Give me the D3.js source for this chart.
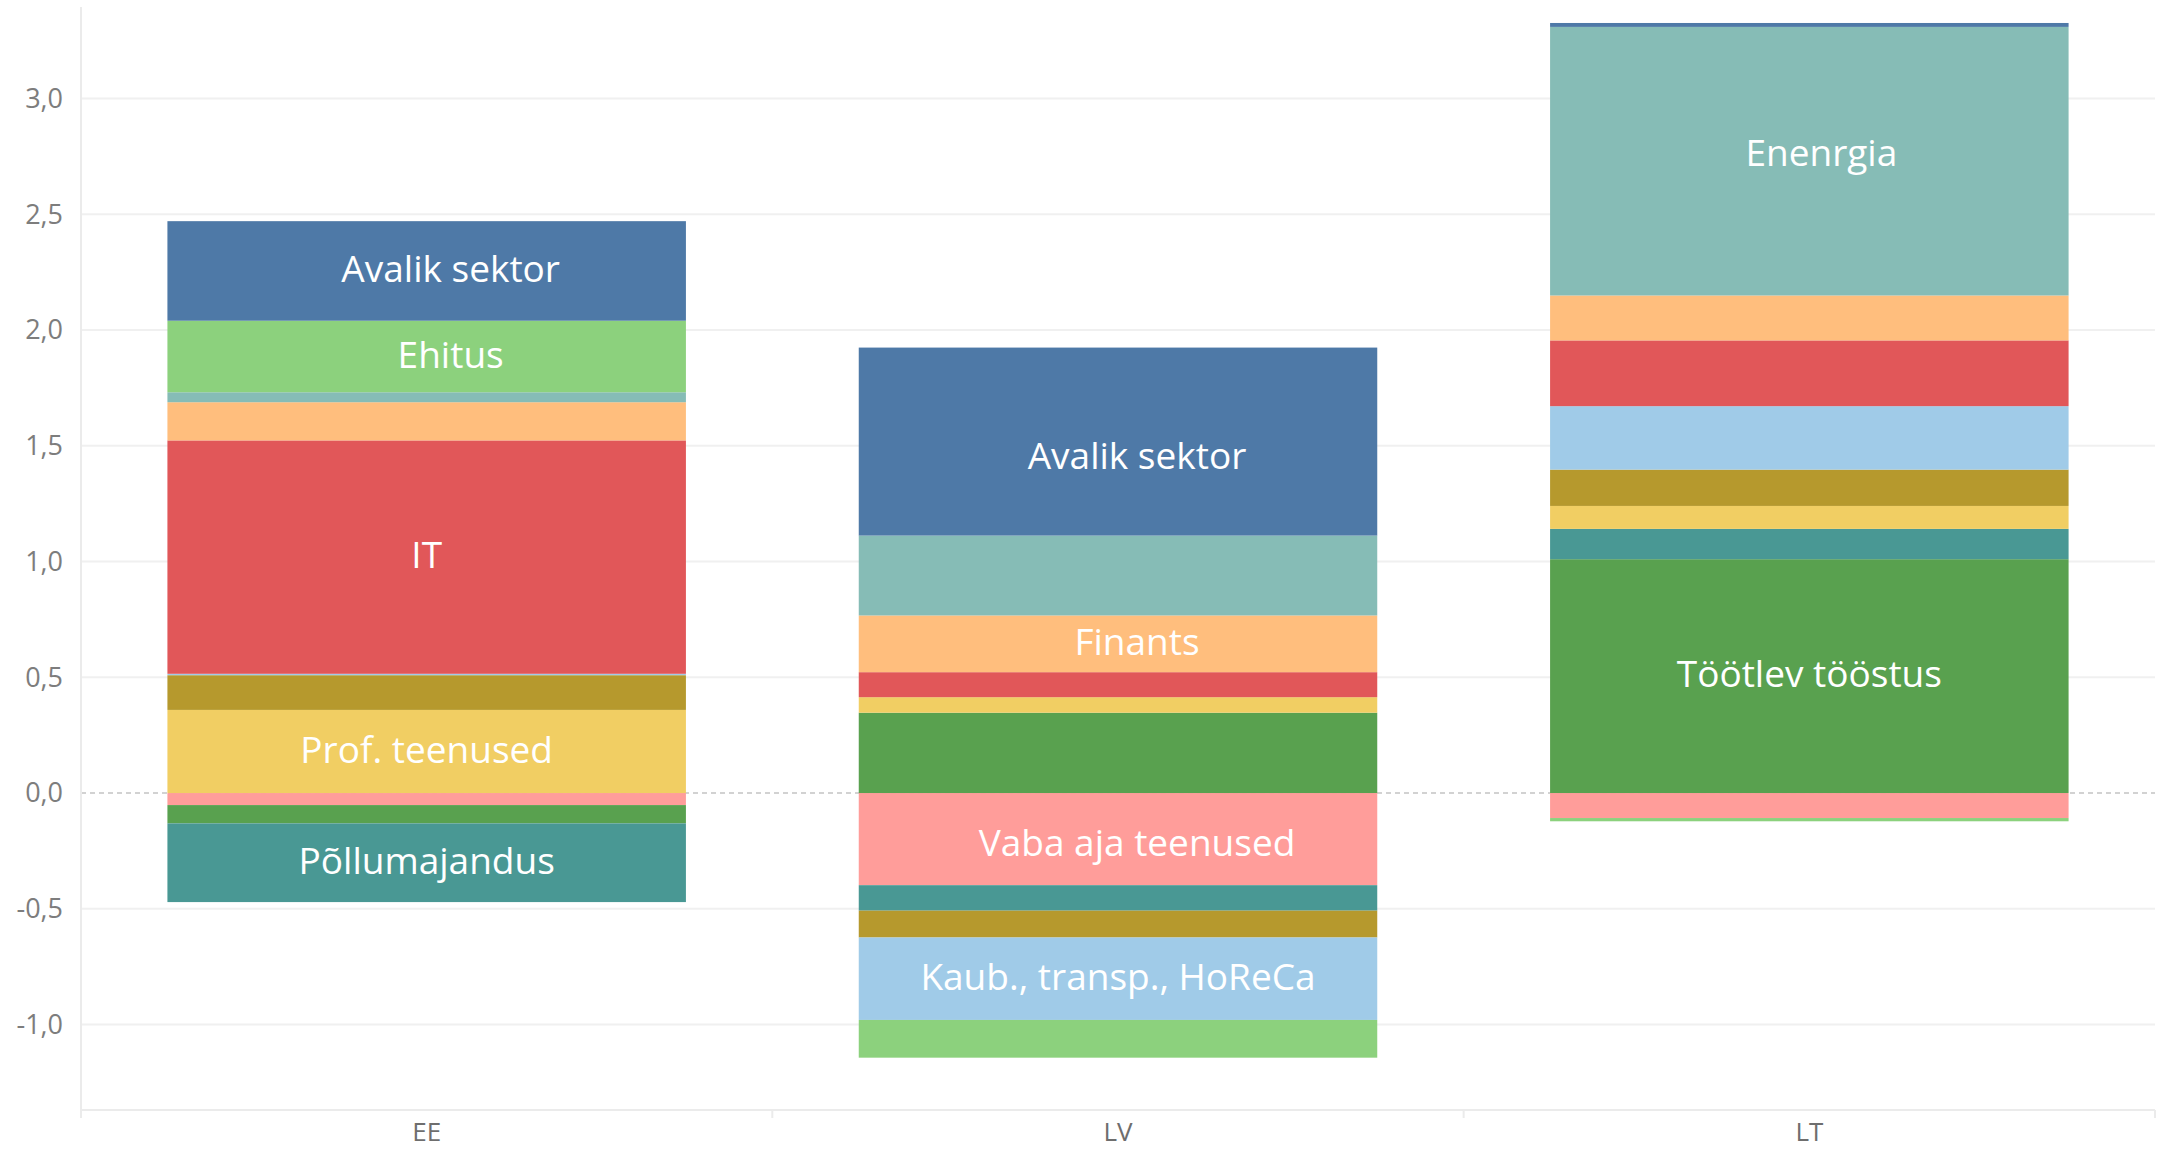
<!DOCTYPE html>
<html>
<head>
<meta charset="utf-8">
<script src="https://cdn.jsdelivr.net/npm/d3@7"></script>
<style>
    body { margin: 0; background: #fff; }
    svg { display: block; }
</style>
</head>
<body>
<script>
// categories and sectors (stack order as in the source, Estonian alphabet)
const countries = ['EE', 'LV', 'LT'];
const sectors = [
    'Avalik sektor', 'Ehitus', 'Enenrgia', 'Finants', 'IT',
    'Kaub., transp., HoReCa', 'Kinnisvara', 'Prof. teenused',
    'Põllumajandus', 'Töötlev tööstus', 'Vaba aja teenused'
];
const sectorColors = [
    '#4e79a7', '#8cd17d', '#86bcb6', '#ffbe7d', '#e15759',
    '#a0cbe8', '#b6992d', '#f1ce63', '#499894', '#59a14f', '#ff9d9a'
];

// contribution per sector, same order as sectors
const valuesEE = [0.43, 0.309, 0.043, 0.165, 1.008, 0.006, 0.15, 0.359, -0.34, -0.079, -0.052];
const valuesLV = [0.812, -0.163, 0.345, 0.245, 0.108, -0.356, -0.116, 0.067, -0.110, 0.347, -0.398];
const valuesLT = [0.017, -0.014, 1.16, 0.194, 0.284, 0.274, 0.157, 0.099, 0.131, 1.01, -0.108];

const yTicks = [-1.0, -0.5, 0.0, 0.5, 1.0, 1.5, 2.0, 2.5, 3.0];

// segments that carry a text label
const labelled = [
    ['EE', 'Avalik sektor'], ['EE', 'Ehitus'], ['EE', 'IT'], ['EE', 'Prof. teenused'], ['EE', 'Põllumajandus'],
    ['LV', 'Avalik sektor'], ['LV', 'Finants'], ['LV', 'Vaba aja teenused'], ['LV', 'Kaub., transp., HoReCa'],
    ['LT', 'Enenrgia'], ['LT', 'Töötlev tööstus']
];

document.addEventListener('DOMContentLoaded', () => {
    const width = 2160, height = 1150;
    const left = 81, right = 2155, top = 7, bottom = 1110;

    const svg = d3.select('body').append('svg')
        .attr('width', width)
        .attr('height', height);

    const valuesBy = { EE: valuesEE, LV: valuesLV, LT: valuesLT };
    const rows = countries.map(c => {
        const row = { country: c };
        sectors.forEach((s, i) => { row[s] = valuesBy[c][i]; });
        return row;
    });

    const x = d3.scaleBand().domain(countries).range([left, right]).padding(0);
    const y = d3.scaleLinear().domain([-1.369, 3.395]).range([bottom, top]);
    const color = d3.scaleOrdinal().domain(sectors).range(sectorColors);

    const barW = x.bandwidth() * 0.75;
    const barX = c => x(c) + (x.bandwidth() - barW) / 2;

    // gridlines
    svg.append('g').selectAll('line')
        .data(yTicks.filter(t => t !== 0))
        .enter().append('line')
        .attr('x1', left).attr('x2', right)
        .attr('y1', d => y(d)).attr('y2', d => y(d))
        .style('stroke', '#f0f0f0')
        .style('stroke-width', 2);

    // zero line
    svg.append('line')
        .attr('x1', left).attr('x2', right)
        .attr('y1', y(0)).attr('y2', y(0))
        .style('stroke', '#c4c4c4')
        .style('stroke-width', 1.5)
        .style('stroke-dasharray', '5,4');

    // axis frame
    svg.append('line')
        .attr('x1', left).attr('x2', left)
        .attr('y1', top).attr('y2', bottom + 8)
        .style('stroke', '#ebebeb').style('stroke-width', 2);
    svg.append('line')
        .attr('x1', left).attr('x2', right)
        .attr('y1', bottom).attr('y2', bottom)
        .style('stroke', '#ebebeb').style('stroke-width', 2);
    svg.append('g').selectAll('line')
        .data(countries.map(c => x(c)).concat([right]))
        .enter().append('line')
        .attr('x1', d => d).attr('x2', d => d)
        .attr('y1', bottom).attr('y2', bottom + 8)
        .style('stroke', '#ebebeb').style('stroke-width', 2);

    // y tick labels
    const fmt = d => d3.format('.1f')(d).replace('.', ',').replace('−', '-');
    svg.append('g').selectAll('text')
        .data(yTicks)
        .enter().append('text')
        .attr('x', 63)
        .attr('y', d => y(d))
        .attr('dy', '0.35em')
        .attr('text-anchor', 'end')
        .style('font-family', '"Open Sans", sans-serif')
        .style('font-size', '27px')
        .style('fill', '#7d7d7d')
        .text(fmt);

    // x labels
    svg.append('g').selectAll('text')
        .data(countries)
        .enter().append('text')
        .attr('x', d => x(d) + x.bandwidth() / 2)
        .attr('y', 1141)
        .attr('text-anchor', 'middle')
        .style('font-family', '"Open Sans", sans-serif')
        .style('font-size', '26px')
        .style('fill', '#6e6e6e')
        .text(d => d);

    // stacked bars, diverging around zero
    const stack = d3.stack()
        .keys(sectors.slice().reverse())
        .offset(d3.stackOffsetDiverging);
    const series = stack(rows);

    const layers = svg.append('g').selectAll('g')
        .data(series)
        .enter().append('g')
        .style('fill', d => color(d.key));

    layers.selectAll('rect')
        .data(d => d.map(p => ({ key: d.key, country: p.data.country, y0: p[0], y1: p[1] })))
        .enter().append('rect')
        .attr('x', d => barX(d.country))
        .attr('width', barW)
        .attr('y', d => y(Math.max(d.y0, d.y1)))
        .attr('height', d => Math.abs(y(d.y0) - y(d.y1)));

    // segment labels, with the small nudges seen in the source
    const labelShift = {
        'EE|Avalik sektor': [24, 0], 'EE|Ehitus': [24, 0],
        'LV|Avalik sektor': [19, 16], 'LV|Finants': [19, 0], 'LV|Vaba aja teenused': [19, 6],
        'LT|Enenrgia': [12, -6]
    };
    const shift = d => labelShift[d[0] + '|' + d[1]] || [0, 0];
    const segs = {};
    series.forEach(s => s.forEach(p => { segs[p.data.country + '|' + s.key] = p; }));

    svg.append('g').selectAll('text')
        .data(labelled)
        .enter().append('text')
        .attr('x', d => barX(d[0]) + barW / 2 + shift(d)[0])
        .attr('y', d => {
            const p = segs[d[0] + '|' + d[1]];
            return y((p[0] + p[1]) / 2) + shift(d)[1];
        })
        .attr('dy', '0.3em')
        .attr('text-anchor', 'middle')
        .style('font-family', '"Open Sans", sans-serif')
        .style('font-size', '37px')
        .style('fill', '#ffffff')
        .text(d => d[1]);
});
</script>
</body>
</html>
